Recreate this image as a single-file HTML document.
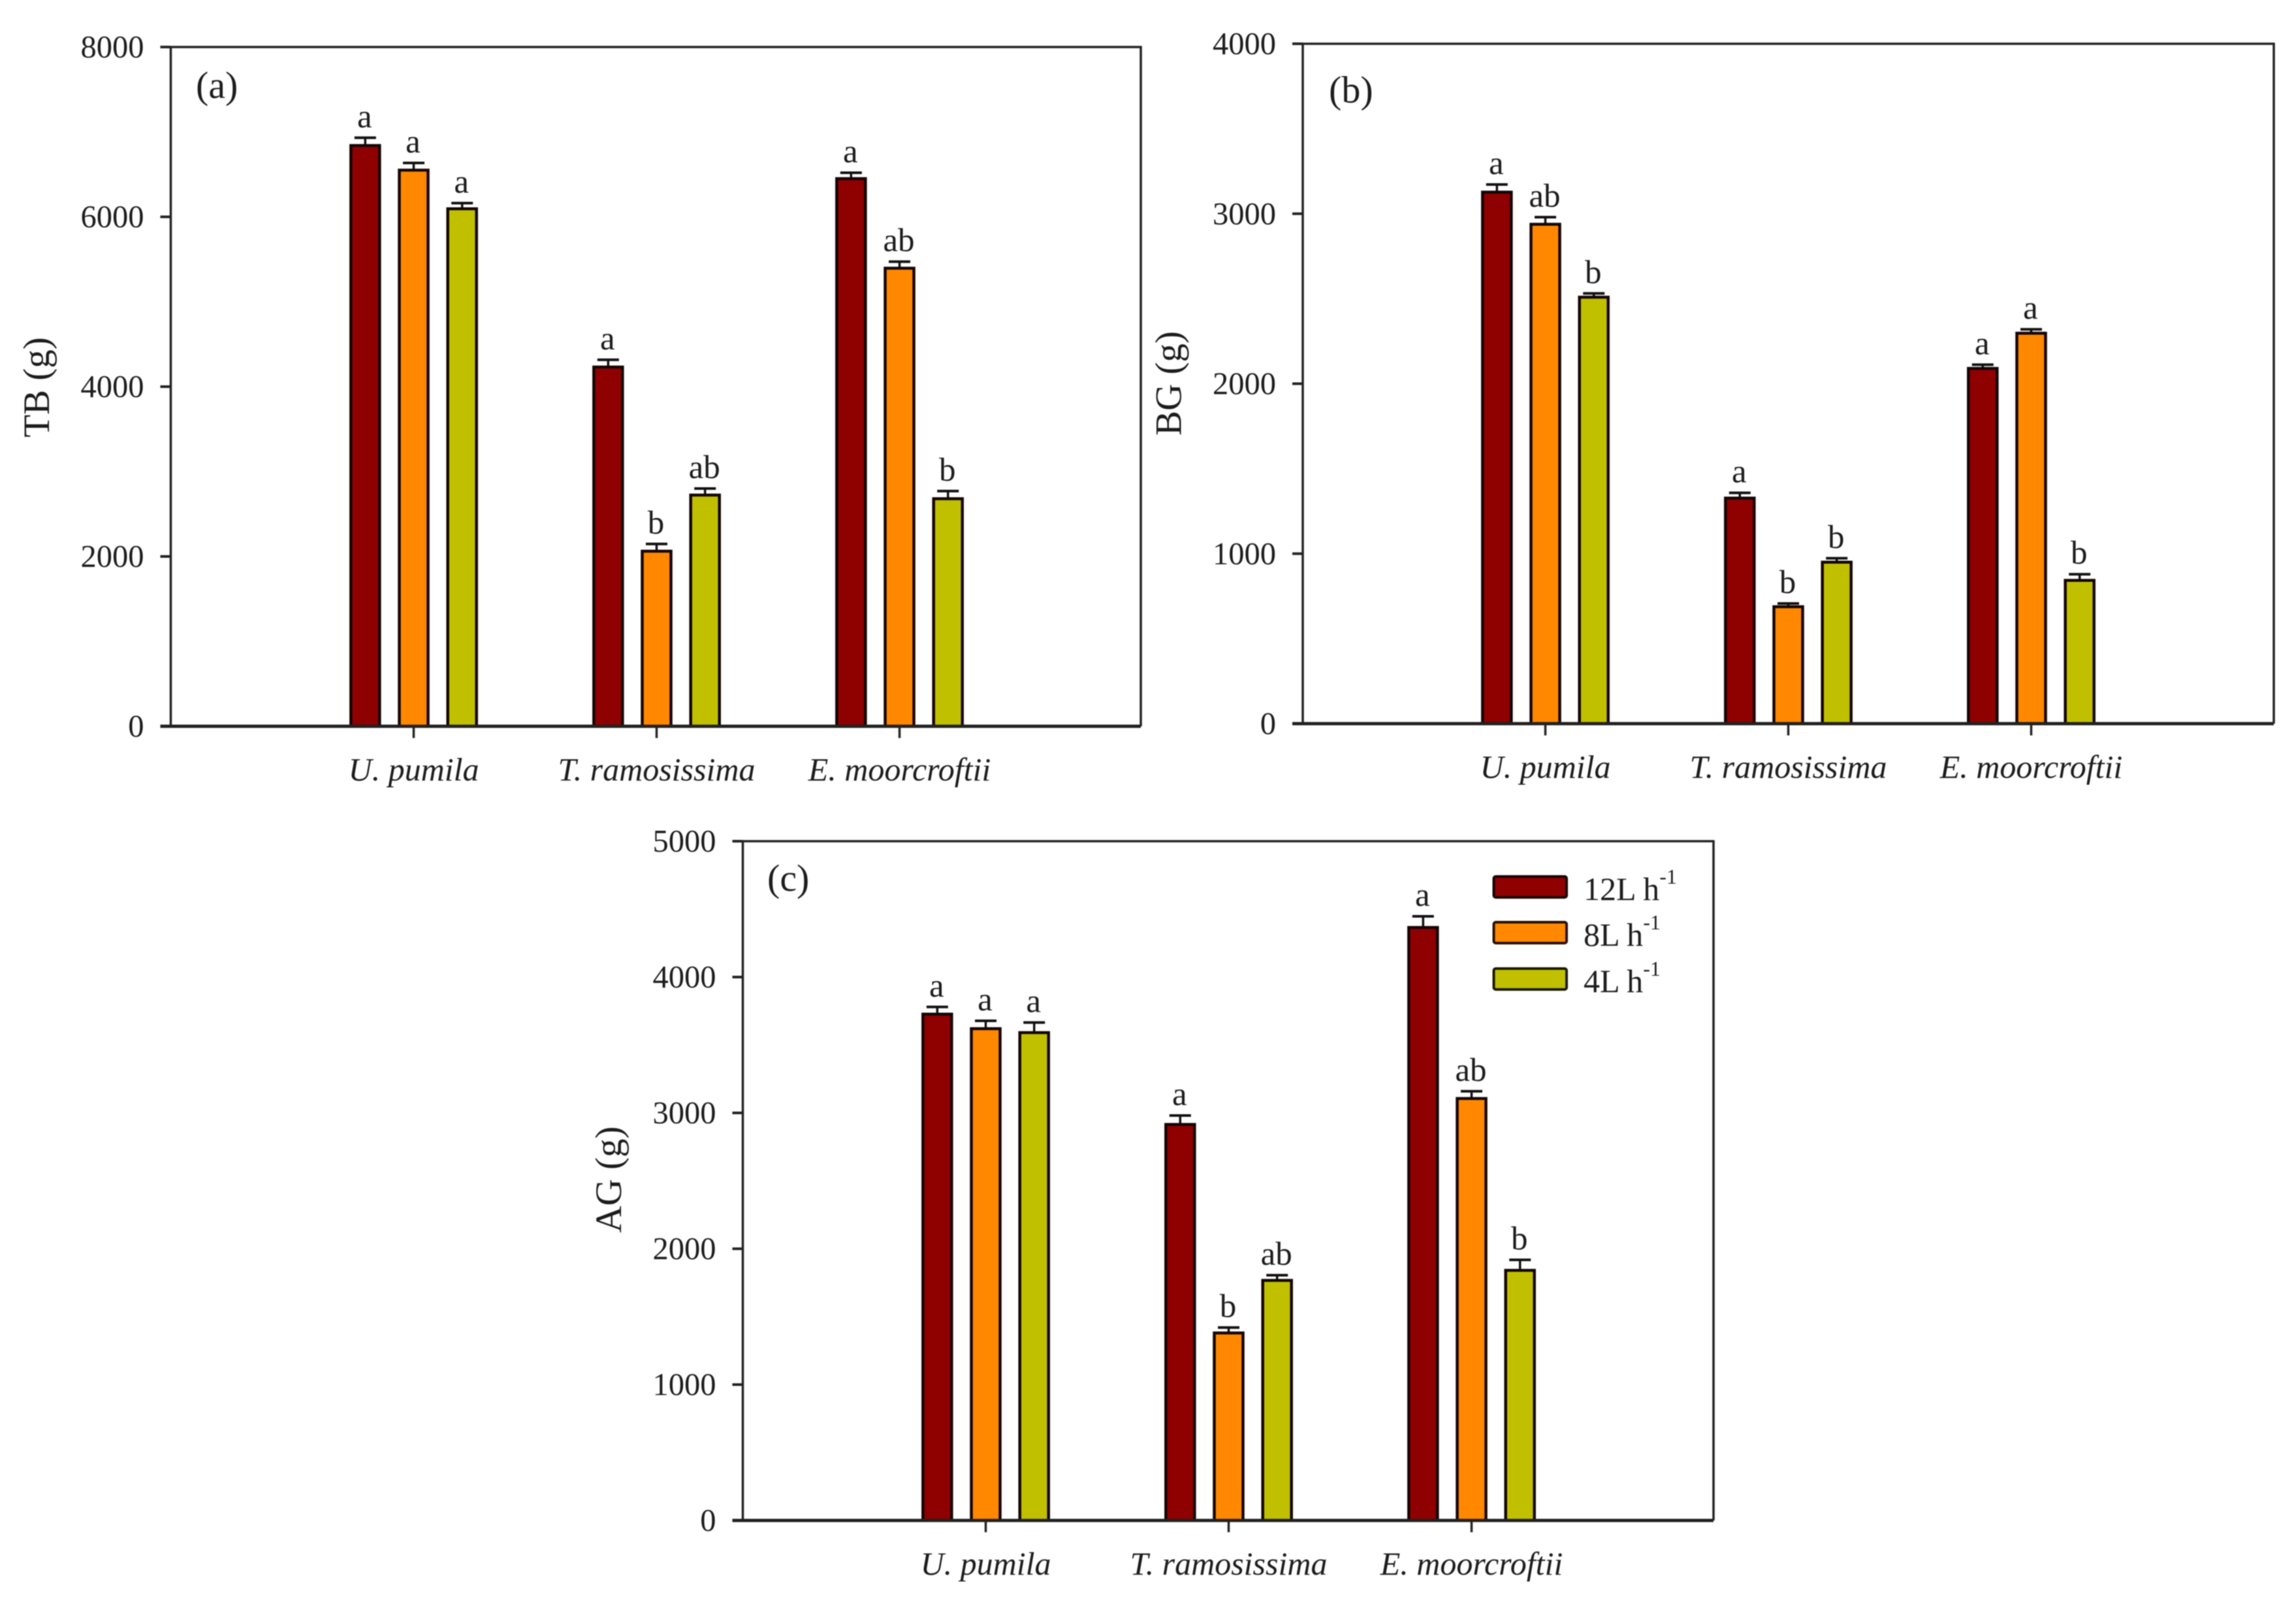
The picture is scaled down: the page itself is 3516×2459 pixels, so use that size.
<!DOCTYPE html>
<html lang="en">
<head>
<meta charset="utf-8">
<title>TB, BG and AG biomass by species and irrigation rate</title>
<style>
html,body{margin:0;padding:0;background:#fff;}
#figure{display:block;width:3516px;height:2459px;filter:blur(0.8px);font-family:"Liberation Serif",serif;fill:#1c1c1c;}
</style>
</head>
<body>
<svg id="figure" xmlns="http://www.w3.org/2000/svg" width="3516" height="2459" viewBox="0 0 3516 2459">
  <g id="panel-a"></g>
  <g id="panel-b"></g>
  <g id="panel-c"></g>
  <g>
    <g>
      <rect x="2287.5" y="1342" width="111.5" height="32" rx="3" fill="#8f0000" stroke="#1a0000" stroke-width="4"/>
      <text x="2425" y="1378" font-size="50">12L h<tspan dy="-25" font-size="32">-1</tspan></text>
    </g>
    <g>
      <rect x="2287.5" y="1412" width="111.5" height="32" rx="3" fill="#ff8800" stroke="#2a1000" stroke-width="4"/>
      <text x="2425" y="1448" font-size="50">8L h<tspan dy="-25" font-size="32">-1</tspan></text>
    </g>
    <g>
      <rect x="2287.5" y="1483" width="111.5" height="32" rx="3" fill="#c0c000" stroke="#1a1a00" stroke-width="4"/>
      <text x="2425" y="1519" font-size="50">4L h<tspan dy="-25" font-size="32">-1</tspan></text>
    </g>
  </g>
</svg>
<script>
// ---- Chart data ----
const categories = ["U. pumila", "T. ramosissima", "E. moorcroftii"];
const seriesNames = ["12L", "8L", "4L"];

const tbTicks = [0, 2000, 4000, 6000, 8000];
const tb12 = [6840, 4231, 6450];
const tb8 = [6550, 2062, 5395];
const tb4 = [6095, 2723, 2680];
const tbErr12 = [92, 85, 69];
const tbErr8 = [85, 85, 77];
const tbErr4 = [67, 77, 90];
const tbLetters12 = ["a", "a", "a"];
const tbLetters8 = ["a", "b", "ab"];
const tbLetters4 = ["a", "ab", "b"];

const bgTicks = [0, 1000, 2000, 3000, 4000];
const bg12 = [3127, 1327, 2090];
const bg8 = [2938, 688, 2297];
const bg4 = [2509, 950, 843];
const bgErr12 = [45, 31, 22];
const bgErr8 = [42, 19, 23];
const bgErr4 = [22, 23, 36];
const bgLetters12 = ["a", "a", "a"];
const bgLetters8 = ["ab", "b", "a"];
const bgLetters4 = ["b", "b", "b"];

const agTicks = [0, 1000, 2000, 3000, 4000, 5000];
const ag12 = [3727, 2915, 4365];
const ag8 = [3620, 1380, 3106];
const ag4 = [3591, 1767, 1841];
const agErr12 = [53, 66, 82];
const agErr8 = [58, 40, 53];
const agErr4 = [74, 38, 77];
const agLetters12 = ["a", "a", "a"];
const agLetters8 = ["a", "b", "ab"];
const agLetters4 = ["a", "ab", "b"];

const seriesColors = ["#8f0000", "#ff8800", "#c0c000"];

const NS = "http://www.w3.org/2000/svg";

function drawPanel(opts) {
  const root = document.getElementById(opts.id);
  const left = opts.left, right = opts.right, top = opts.top, bottom = opts.bottom;
  const maxV = opts.ticks[opts.ticks.length - 1];
  const yScale = function (v) { return bottom - (v / maxV) * (bottom - top); };
  const xCategory = function (g) { return opts.firstCenter + g * 372; };
  const xBar = function (g, s) { return xCategory(g) + (s - 1) * 74.2; };

  // Frame
  const frame = document.createElementNS(NS, "path");
  
  
  frame.setAttribute("d", "M" + (left - 16) + " " + top + "H" + right + "V" + bottom + "M" + left + " " + top + "V" + bottom);
  frame.setAttribute("fill", "none");
  frame.setAttribute("stroke", "#222");
  frame.setAttribute("stroke-width", "3.5");
  root.appendChild(frame);

  // Y ticks and labels
  opts.ticks.forEach(function (t) {
    const y = yScale(t);
    const tick = document.createElementNS(NS, "line");
    
    
    tick.setAttribute("x1", left - 16);
    tick.setAttribute("x2", left);
    tick.setAttribute("y1", y);
    tick.setAttribute("y2", y);
    tick.setAttribute("stroke", "#222");
    tick.setAttribute("stroke-width", "4");
    root.appendChild(tick);

    const label = document.createElementNS(NS, "text");
    
    
    label.setAttribute("x", left - 41);
    label.setAttribute("y", y + 16);
    label.setAttribute("text-anchor", "end");
    label.setAttribute("font-size", "48.5");
    label.textContent = t;
    root.appendChild(label);
  });

  // Bars, error bars, letters
  opts.series.forEach(function (values, s) {
    values.forEach(function (v, g) {
      const cx = xBar(g, s);
      const yTop = yScale(v);
      const yCap = yScale(v + opts.errors[s][g]);

      const stem = document.createElementNS(NS, "line");
      
      
      stem.setAttribute("x1", cx);
      stem.setAttribute("x2", cx);
      stem.setAttribute("y1", yCap);
      stem.setAttribute("y2", yTop);
      stem.setAttribute("stroke", "#111");
      stem.setAttribute("stroke-width", "3.5");
      root.appendChild(stem);

      const cap = document.createElementNS(NS, "line");
      
      
      cap.setAttribute("x1", cx - 16.5);
      cap.setAttribute("x2", cx + 16.5);
      cap.setAttribute("y1", yCap);
      cap.setAttribute("y2", yCap);
      cap.setAttribute("stroke", "#111");
      cap.setAttribute("stroke-width", "4");
      root.appendChild(cap);

      const bar = document.createElementNS(NS, "rect");
      
      
      bar.setAttribute("x", cx - 22);
      bar.setAttribute("y", yTop);
      bar.setAttribute("width", 44);
      bar.setAttribute("height", bottom - yTop);
      bar.setAttribute("fill", seriesColors[s]);
      bar.setAttribute("stroke", "#150505");
      bar.setAttribute("stroke-width", "4.5");
      root.appendChild(bar);

      const letter = document.createElementNS(NS, "text");
      
      
      letter.setAttribute("x", cx - 1);
      letter.setAttribute("y", yCap - 16);
      letter.setAttribute("text-anchor", "middle");
      letter.setAttribute("font-size", "51");
      letter.textContent = opts.letters[s][g];
      root.appendChild(letter);
    });
  });

  // Baseline (redrawn over bar bottoms)
  const baseline = document.createElementNS(NS, "line");
  
  
  baseline.setAttribute("x1", left - 16);
  baseline.setAttribute("x2", right);
  baseline.setAttribute("y1", bottom);
  baseline.setAttribute("y2", bottom);
  baseline.setAttribute("stroke", "#222");
  baseline.setAttribute("stroke-width", "5");
  root.appendChild(baseline);

  // X ticks and category labels
  categories.forEach(function (c, g) {
    const cx = xCategory(g);
    const tick = document.createElementNS(NS, "line");
    
    
    tick.setAttribute("x1", cx);
    tick.setAttribute("x2", cx);
    tick.setAttribute("y1", bottom);
    tick.setAttribute("y2", bottom + 18);
    tick.setAttribute("stroke", "#222");
    tick.setAttribute("stroke-width", "3.5");
    root.appendChild(tick);

    const label = document.createElementNS(NS, "text");
    
    
    label.setAttribute("x", cx);
    label.setAttribute("y", bottom + 83);
    label.setAttribute("text-anchor", "middle");
    label.setAttribute("font-size", "50");
    label.setAttribute("font-style", "italic");
    label.textContent = c;
    root.appendChild(label);
  });

  // Y-axis title
  const title = document.createElementNS(NS, "text");
  
  
  title.setAttribute("transform", "translate(" + (left - 186.5) + " " + opts.titleY + ") rotate(-90)");
  title.setAttribute("text-anchor", "middle");
  title.setAttribute("font-size", "57");
  title.textContent = opts.title;
  root.appendChild(title);

  // Panel letter
  const tag = document.createElementNS(NS, "text");
  
  
  tag.setAttribute("x", opts.tagX);
  tag.setAttribute("y", opts.tagY);
  tag.setAttribute("font-size", "58");
  tag.textContent = opts.tag;
  root.appendChild(tag);
}

drawPanel({
  id: "panel-a", left: 261.5, right: 1747, top: 72, bottom: 1112,
  firstCenter: 633.5, titleY: 593, tagX: 300, tagY: 150,
  ticks: tbTicks, title: "TB (g)", tag: "(a)",
  series: [tb12, tb8, tb4], errors: [tbErr12, tbErr8, tbErr4],
  letters: [tbLetters12, tbLetters8, tbLetters4]
});
drawPanel({
  id: "panel-b", left: 1995, right: 3482, top: 67, bottom: 1108,
  firstCenter: 2366.5, titleY: 587, tagX: 2035, tagY: 157,
  ticks: bgTicks, title: "BG (g)", tag: "(b)",
  series: [bg12, bg8, bg4], errors: [bgErr12, bgErr8, bgErr4],
  letters: [bgLetters12, bgLetters8, bgLetters4]
});
drawPanel({
  id: "panel-c", left: 1137.5, right: 2624, top: 1288, bottom: 2328,
  firstCenter: 1509.5, titleY: 1806, tagX: 1175, tagY: 1364,
  ticks: agTicks, title: "AG (g)", tag: "(c)",
  series: [ag12, ag8, ag4], errors: [agErr12, agErr8, agErr4],
  letters: [agLetters12, agLetters8, agLetters4]
});
</script>
</body>
</html>
